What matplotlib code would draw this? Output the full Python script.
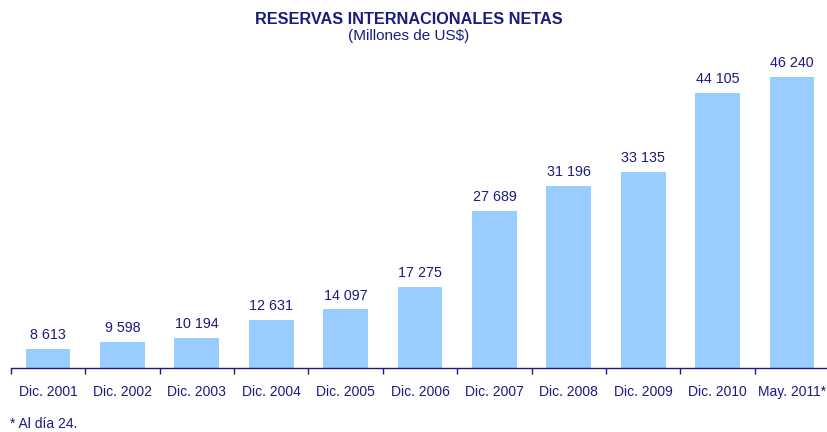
import matplotlib
matplotlib.use("Agg")
import matplotlib.pyplot as plt
import numpy as np

categories = ["Dic. 2001", "Dic. 2002", "Dic. 2003", "Dic. 2004", "Dic. 2005", "Dic. 2006",
              "Dic. 2007", "Dic. 2008", "Dic. 2009", "Dic. 2010", "May. 2011*"]
values = [8613, 9598, 10194, 12631, 14097, 17275, 27689, 31196, 33135, 44105, 46240]

navy = "#1a1a80"
barc = "#99ccff"
plt.rcParams['font.family'] = ['Liberation Sans', 'DejaVu Sans']

W, H = 827, 432
fig = plt.figure(figsize=(W/100, H/100), dpi=100)
ax = fig.add_axes([10.8/W, (H-368)/H, 818.4/W, (368-50)/H])
x = np.arange(len(categories))
ax.bar(x, values, width=0.6, color=barc, zorder=2)
ax.set_xlim(-0.5, len(categories) - 0.5)
ax.set_ylim(6000, 50000)
for xi, v in zip(x, values):
    ax.annotate(f"{v:,}".replace(",", " "), (xi, v), xytext=(0, 5), textcoords="offset points",
                ha="center", va="bottom", fontsize=10.3, color=navy)
for s in ["left", "right", "top"]:
    ax.spines[s].set_visible(False)
ax.spines["bottom"].set_color(navy)
ax.spines["bottom"].set_linewidth(1.0)
ax.set_yticks([])
ax.set_xticks(x)
ax.set_xticklabels(categories, fontsize=10, color=navy)
ax.tick_params(axis="x", which="major", length=0, pad=12)
ax.set_xticks(np.arange(len(categories)) - 0.5, minor=True)
ax.tick_params(axis="x", which="minor", length=4, color=navy, width=1, direction="out")

fig.text(409/W, 1 - 19/H, "RESERVAS INTERNACIONALES NETAS", ha="center", va="center",
         fontsize=11.7, fontweight="bold", color=navy)
fig.text(409/W, 1 - 36/H, "(Millones de US$)", ha="center", va="center", fontsize=11,
         color=navy)
fig.text(10/W, 1 - 424/H, "* Al día 24.", ha="left", va="center", fontsize=10, color=navy)

fig.savefig("out.png", dpi=100)
